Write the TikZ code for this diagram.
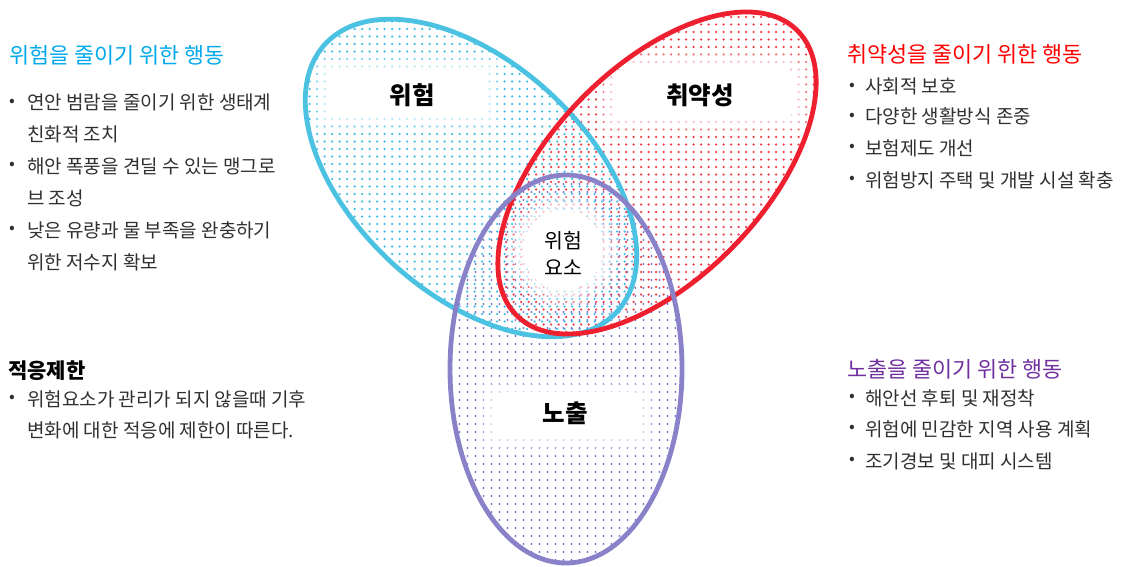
\documentclass[tikz,border=0pt]{standalone}
\usepackage{fontspec}
\setmainfont{Noto Sans CJK KR}
\definecolor{cyanL}{HTML}{4CC2E2}
\definecolor{redL}{HTML}{EE2030}
\definecolor{purL}{HTML}{8A82C8}
\definecolor{cyanD}{HTML}{40BCE8}
\definecolor{redD}{HTML}{F23A48}
\definecolor{purD}{HTML}{8078CC}
\definecolor{hCyan}{HTML}{00A8EC}
\definecolor{hRed}{HTML}{FF0000}
\definecolor{hPur}{HTML}{7030A0}
\definecolor{txt}{HTML}{303030}
\begin{document}
\begin{tikzpicture}[x=1pt,y=-1pt,
  head/.style={anchor=base west, inner sep=0pt, font=\fontsize{21.8}{24}\selectfont},
  body/.style={anchor=base west, inner sep=0pt, text=txt, font=\fontsize{19}{22}\selectfont},
  bul/.style={anchor=center, inner sep=0pt, text=txt, font=\fontsize{17}{18}\selectfont},
  lab/.style={anchor=center, inner sep=0pt, text=black, font=\fontsize{24.5}{27}\selectfont\bfseries},
  ring/.style={line width=4.8pt},
  glow/.style={fill=white, rounded corners=14pt}
]
\useasboundingbox (0,0) rectangle (1121,567);
\coordinate (cc) at (471,178);
\coordinate (rc) at (657,173);
\coordinate (pc) at (566,369);
% dotted fills
\begin{scope}
\clip[rotate around={-42.5:(cc)}] (cc) ellipse [x radius=196pt, y radius=114pt];
\fill[cyanD] foreach \x in {302,309.5,...,645} {foreach \y in {14,21.5,...,340} {(\x,\y) circle [radius=1.25pt]}};
\end{scope}
\begin{scope}
\clip[rotate around={45.6:(rc)}] (rc) ellipse [x radius=198pt, y radius=104pt];
\fill[redD] foreach \x in {491,498.5,...,822} {foreach \y in {9.5,17,...,340} {(\x,\y) circle [radius=1.25pt]}};
\end{scope}
\begin{scope}
\clip (pc) ellipse [x radius=114pt, y radius=192pt];
\fill[purD] foreach \x in {451.5,459.5,...,685} {foreach \y in {176,184,...,566} {(\x,\y) circle [radius=1.2pt]}};
\end{scope}
% white soft label areas
\fill[glow, opacity=0.3] (311,55) rectangle (503,130);
\fill[glow, opacity=0.5] (318,62) rectangle (496,123);
\fill[glow] (326,69) rectangle (488,116);
\fill[glow, opacity=0.3] (597,54) rectangle (810,133);
\fill[glow, opacity=0.5] (604,61) rectangle (803,126);
\fill[glow] (612,68) rectangle (795,119);
\fill[glow, opacity=0.3] (477,378) rectangle (657,452);
\fill[glow, opacity=0.5] (484,385) rectangle (650,445);
\fill[glow] (492,392) rectangle (642,438);
\fill[white, opacity=0.3] (563,250) circle [radius=56pt];
\fill[white, opacity=0.5] (563,250) circle [radius=48pt];
\fill[white] (563,250) circle [radius=40pt];
% outlines
\draw[ring, cyanL, rotate around={-42.5:(cc)}] (cc) ellipse [x radius=198pt, y radius=116pt];
\draw[ring, redL, rotate around={45.6:(rc)}] (rc) ellipse [x radius=200pt, y radius=106pt];
\draw[ring, purL] (pc) ellipse [x radius=116pt, y radius=194pt];
% labels
\node[lab] (lw) at (412,95) {위험};
\node[lab] (lv) at (700,95) {취약성};
\node[lab] (le) at (565,413) {노출};
\node[anchor=center, inner sep=0pt, align=center, font=\fontsize{20.5}{27}\selectfont] (lr) at (563,253) {위험\\요소};
% left top block
\node[head, text=hCyan] (h1) at (9,64) {위험을 줄이기 위한 행동};
\node[bul] (d11) at (12,103) {•};
\node[body] (t11) at (27,110) {연안 범람을 줄이기 위한 생태계};
\node[body] (t12) at (27,141) {친화적 조치};
\node[bul] (d12) at (12,166) {•};
\node[body] (t13) at (27,173) {해안 폭풍을 견딜 수 있는 맹그로};
\node[body] (t14) at (27,205) {브 조성};
\node[bul] (d13) at (12,230) {•};
\node[body] (t15) at (27,237) {낮은 유량과 물 부족을 완충하기};
\node[body] (t16) at (27,269) {위한 저수지 확보};
% right top block
\node[head, text=hRed] (h2) at (847,63) {취약성을 줄이기 위한 행동};
\node[bul] (d21) at (852,87) {•};
\node[body] (t21) at (865,94) {사회적 보호};
\node[bul] (d22) at (852,117) {•};
\node[body] (t22) at (865,124) {다양한 생활방식 존중};
\node[bul] (d23) at (852,148) {•};
\node[body] (t23) at (865,155) {보험제도 개선};
\node[bul] (d24) at (852,180) {•};
\node[body] (t24) at (865,187) {위험방지 주택 및 개발 시설 확충};
% bottom left block
\node[head, text=black, font=\fontsize{21}{24}\selectfont\bfseries] (h3) at (8,378) {적응제한};
\node[bul] (d31) at (12,399) {•};
\node[body] (t31) at (27,406) {위험요소가 관리가 되지 않을때 기후};
\node[body] (t32) at (27,437) {변화에 대한 적응에 제한이 따른다.};
% bottom right block
\node[head, text=hPur] (h4) at (847,377) {노출을 줄이기 위한 행동};
\node[bul] (d41) at (852,398) {•};
\node[body] (t41) at (865,405) {해안선 후퇴 및 재정착};
\node[bul] (d42) at (852,429) {•};
\node[body] (t42) at (865,436) {위험에 민감한 지역 사용 계획};
\node[bul] (d43) at (852,461) {•};
\node[body] (t43) at (865,468) {조기경보 및 대피 시스템};
\end{tikzpicture}
\end{document}
